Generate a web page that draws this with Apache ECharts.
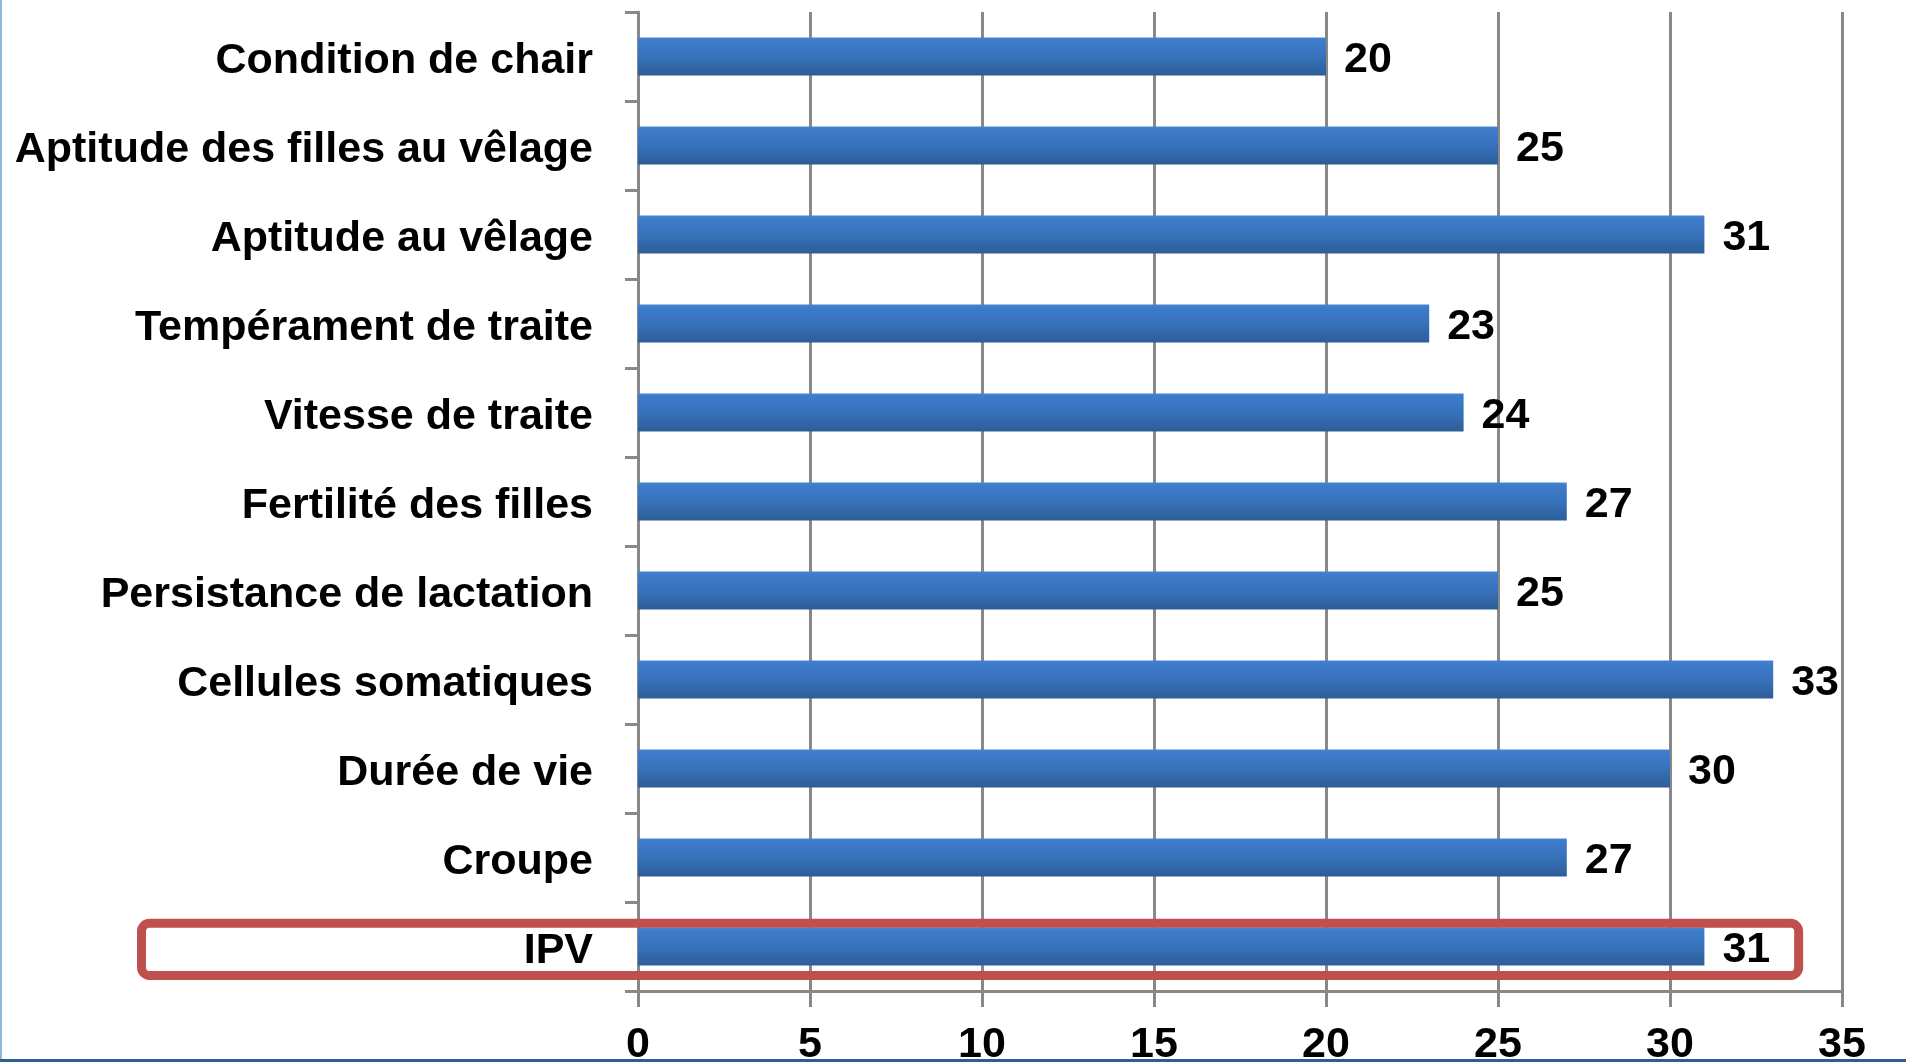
<!DOCTYPE html>
<html>
<head>
<meta charset="utf-8">
<title>Index – caractères</title>
<script src="https://cdn.jsdelivr.net/npm/echarts@6/dist/echarts.min.js"></script>
<style>
  html, body { margin: 0; padding: 0; background: #ffffff; }
  #chart { position: absolute; left: 0; top: 0; width: 1906px; height: 1062px; }
  #edgeLeft { position: absolute; left: 0; top: 0; width: 2px; height: 1062px; background: #8dbbe0; }
  #edgeBottom { position: absolute; left: 0; top: 1059px; width: 1906px; height: 3px; background: #2f5f8f; }
</style>
</head>
<body>
<div id="chart"></div>
<div id="edgeLeft"></div>
<div id="edgeBottom"></div>
<script>
// Traits, top to bottom
const categories = [
  'Condition de chair',
  'Aptitude des filles au vêlage',
  'Aptitude au vêlage',
  'Tempérament de traite',
  'Vitesse de traite',
  'Fertilité des filles',
  'Persistance de lactation',
  'Cellules somatiques',
  'Durée de vie',
  'Croupe',
  'IPV'
];
const values = [20, 25, 31, 23, 24, 27, 25, 33, 30, 27, 31];
const xTicks = [0, 5, 10, 15, 20, 25, 30, 35];

// Category highlighted with a red frame
const highlighted = 'IPV';

const FONT = 'Liberation Sans, Arial, sans-serif';
const GRID_GREY = '#888888';

const chart = echarts.init(document.getElementById('chart'));

const option = {
  animation: false,
  backgroundColor: '#ffffff',
  grid: {
    left: 638, right: 64, top: 12, bottom: 71,
    containLabel: false,
    outerBoundsMode: 'none'
  },
  xAxis: {
    type: 'value',
    min: xTicks[0],
    max: xTicks[xTicks.length - 1],
    interval: xTicks[1] - xTicks[0],
    axisLine: { show: true, lineStyle: { color: GRID_GREY, width: 3 } },
    axisTick: { show: true, length: 16, lineStyle: { color: GRID_GREY, width: 3 } },
    splitLine: { show: true, lineStyle: { color: GRID_GREY, width: 3 } },
    axisLabel: {
      margin: 33,
      color: '#000000',
      fontFamily: FONT,
      fontWeight: 'bold',
      fontSize: 43
    }
  },
  yAxis: {
    type: 'category',
    inverse: true,
    data: categories,
    axisLine: { show: true, lineStyle: { color: GRID_GREY, width: 3 } },
    axisTick: { show: true, length: 13, alignWithLabel: false, lineStyle: { color: GRID_GREY, width: 3 } },
    splitLine: { show: false },
    axisLabel: {
      margin: 45,
      // a short empty first line nudges the name slightly below the band centre
      formatter: (name) => '\n' + name,
      lineHeight: 9,
      color: '#000000',
      fontFamily: FONT,
      fontWeight: 'bold',
      fontSize: 43
    }
  },
  series: [{
    type: 'bar',
    data: values,
    barWidth: 38,
    itemStyle: {
      color: new echarts.graphic.LinearGradient(0, 0, 0, 1, [
        { offset: 0, color: '#4585d3' },
        { offset: 0.08, color: '#3e7ccb' },
        { offset: 0.55, color: '#3670b8' },
        { offset: 1, color: '#2c5d97' }
      ])
    },
    label: {
      show: true,
      position: 'right',
      distance: 18,
      offset: [0, 4],
      color: '#000000',
      fontFamily: FONT,
      fontWeight: 'bold',
      fontSize: 43
    },
    z: 2
  }]
};

chart.setOption(option);

// Red rounded frame around the highlighted row, placed from the axis scales
function drawFrame() {
  const idx = categories.indexOf(highlighted);
  const cy = chart.convertToPixel({ yAxisIndex: 0 }, idx);
  const band = Math.abs(chart.convertToPixel({ yAxisIndex: 0 }, 1) - chart.convertToPixel({ yAxisIndex: 0 }, 0));
  const yTop = cy - band * 0.26;
  const yBottom = cy + band * 0.325;
  const xRight = chart.convertToPixel({ xAxisIndex: 0 }, 33.74);
  const xLeft = 141.5;
  chart.setOption({
    graphic: [{
      type: 'rect',
      z: 10,
      shape: { x: xLeft, y: yTop, width: xRight - xLeft, height: yBottom - yTop, r: 8 },
      style: { fill: 'none', stroke: '#c0504d', lineWidth: 9 }
    }]
  });
}
drawFrame();
</script>
</body>
</html>
